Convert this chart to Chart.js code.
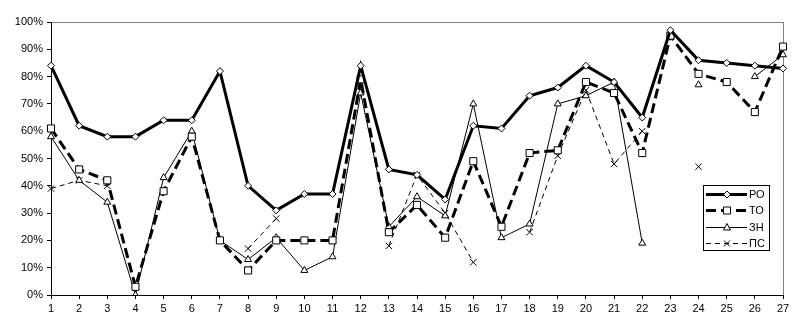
<!DOCTYPE html>
<html>
<head>
<meta charset="utf-8">
<script src="https://cdn.jsdelivr.net/npm/chart.js@4/dist/chart.umd.min.js"></script>
<style>
  html, body { margin: 0; padding: 0; background: #fff; }
</style>
</head>
<body>
<canvas id="chart" width="796" height="331"></canvas>
<script>
const categories = ['1','2','3','4','5','6','7','8','9','10','11','12','13','14','15','16','17','18','19','20','21','22','23','24','25','26','27'];
const ro = [84, 62, 58, 58, 64, 64, 82, 40, 31, 37, 37, 84, 46, 44, 35, 62, 61, 73, 76, 84, 78, 65, 97, 86, 85, 84, 83];
const to = [61, 46, 42, 3, 38, 58, 20, 9, 20, 20, 20, 79, 23, 33, 21, 49, 25, 52, 53, 78, 74, 52, 95, 81, 78, 67, 91];
const zn = [58, 42, 34, 0, 43, 60, 20, 13, 21, 9, 14, 74, 25, 36, 29, 70, 21, 26, 70, 73, 78, 19, null, 77, null, 80, 88];
const ps = [39, 42, 40, null, null, null, null, 17, 28, null, null, null, 18, 44, 30, 12, null, 23, 51, 75, 48, 60, null, 47, null, null, null];
const seriesNames = ['РО', 'ТО', 'ЗН', 'ПС'];

const FONT = '"Liberation Sans", Arial, sans-serif';

function marker(ctx, style, x, y) {
  ctx.save();
  ctx.setLineDash([]);
  ctx.lineWidth = 1;
  ctx.strokeStyle = '#000';
  ctx.fillStyle = '#fff';
  ctx.beginPath();
  if (style === 'rectRot') {
    ctx.moveTo(x, y - 3.5); ctx.lineTo(x + 3.5, y); ctx.lineTo(x, y + 3.5); ctx.lineTo(x - 3.5, y); ctx.closePath();
    ctx.fill(); ctx.stroke();
  } else if (style === 'rect') {
    ctx.rect(x - 3.5, y - 3.5, 7, 7); ctx.fill(); ctx.stroke();
  } else if (style === 'triangle') {
    ctx.moveTo(x, y - 4); ctx.lineTo(x + 3.5, y + 2.5); ctx.lineTo(x - 3.5, y + 2.5); ctx.closePath();
    ctx.fill(); ctx.stroke();
  } else {
    ctx.moveTo(x - 3, y - 3); ctx.lineTo(x + 3, y + 3);
    ctx.moveTo(x + 3, y - 3); ctx.lineTo(x - 3, y + 3);
    ctx.stroke();
  }
  ctx.restore();
}

// gray frame of the plot area (top and right edges)
const framePlugin = {
  id: 'frame',
  beforeDraw(chart) {
    const { ctx, chartArea: a } = chart;
    ctx.save();
    ctx.strokeStyle = '#808080';
    ctx.lineWidth = 1;
    ctx.strokeRect(a.left + 0.5, a.top + 0.5, a.right - a.left, a.bottom - a.top);
    ctx.restore();
  }
};

// legend box inside the plot, like the original
const boxLegend = {
  id: 'boxLegend',
  afterDraw(chart) {
    const ctx = chart.ctx;
    const bx = 703, by = 185, bw = 66, bh = 65;
    ctx.save();
    ctx.fillStyle = '#fff';
    ctx.fillRect(bx, by, bw, bh);
    ctx.strokeStyle = '#000';
    ctx.lineWidth = 1;
    ctx.strokeRect(bx + 0.5, by + 0.5, bw, bh);
    chart.data.datasets.forEach((ds, i) => {
      const y = by + 9 + i * 16.3;
      ctx.beginPath();
      ctx.setLineDash(ds.borderDash || []);
      ctx.lineWidth = ds.borderWidth;
      ctx.strokeStyle = '#000';
      ctx.moveTo(bx + 3, Math.round(y) + 0.5);
      ctx.lineTo(bx + 44, Math.round(y) + 0.5);
      ctx.stroke();
      marker(ctx, ds.pointStyle, bx + 24, Math.round(y) + 0.5);
      ctx.fillStyle = '#000';
      ctx.font = '11px ' + FONT;
      ctx.textBaseline = 'middle';
      ctx.textAlign = 'left';
      ctx.fillText(ds.label, bx + 46, y + 1);
    });
    ctx.restore();
  }
};

function series(label, data, width, dash, style, radius) {
  return {
    label: label,
    data: data,
    borderColor: '#000',
    borderWidth: width,
    borderDash: dash,
    pointStyle: style,
    pointRadius: radius,
    pointBorderWidth: 1,
    pointBorderColor: '#000',
    pointBackgroundColor: style === 'crossRot' ? '#000' : '#fff',
    tension: 0,
    fill: false,
    spanGaps: false
  };
}

new Chart(document.getElementById('chart'), {
  type: 'line',
  data: {
    labels: categories,
    datasets: [
      series(seriesNames[0], ro, 3, [], 'rectRot', 3.5),
      series(seriesNames[1], to, 3, [10, 5], 'rect', 5),
      series(seriesNames[2], zn, 1, [], 'triangle', 4),
      series(seriesNames[3], ps, 1, [5, 4], 'crossRot', 4.5)
    ]
  },
  options: {
    responsive: false,
    animation: false,
    devicePixelRatio: 1,
    layout: { padding: { left: 0, right: 13, top: 22, bottom: 0 } },
    plugins: {
      legend: { display: false },
      tooltip: { enabled: false }
    },
    scales: {
      x: {
        offset: false,
        grid: { drawOnChartArea: false, drawTicks: true, tickLength: 4, color: '#000' },
        border: { color: '#000', width: 1 },
        ticks: { color: '#000', font: { family: FONT, size: 11 }, padding: 3, maxRotation: 0, autoSkip: false },
        afterFit(s) { s.height = 36; }
      },
      y: {
        min: 0,
        max: 100,
        grid: { drawOnChartArea: false, drawTicks: true, tickLength: 4, color: '#000' },
        border: { color: '#000', width: 1 },
        ticks: {
          stepSize: 10,
          color: '#000',
          font: { family: FONT, size: 11 },
          padding: 4,
          callback: v => v + '%'
        },
        afterFit(s) { s.width = 51; }
      }
    }
  },
  plugins: [framePlugin, boxLegend]
});
</script>
</body>
</html>
